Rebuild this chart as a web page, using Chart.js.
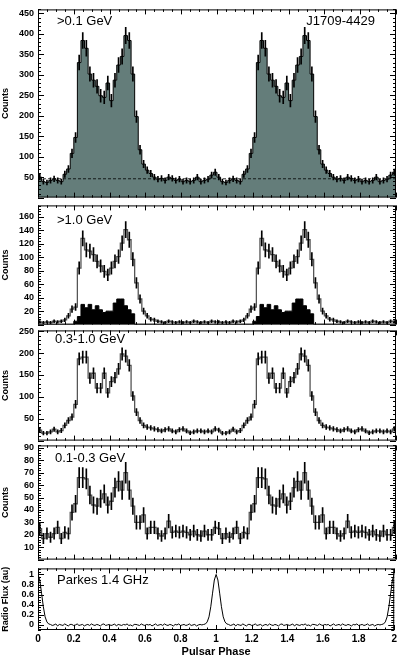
<!DOCTYPE html>
<html>
<head>
<meta charset="utf-8">
<script src="https://cdn.jsdelivr.net/npm/chart.js@4.4.0/dist/chart.umd.min.js"></script>
<style>
  html, body { margin: 0; padding: 0; background: #fff; }
  #wrap { position: relative; width: 400px; height: 659px; overflow: hidden; }
  #wrap canvas { position: absolute; left: 0; }
</style>
</head>
<body>
<div id="wrap"></div>
<script>
// PSR J1709-4429 light curves: one rotation in 50 phase bins, drawn twice (phase 0-2)
const binWidth = 0.02;

const countsAbove100MeV = [50, 39, 37, 42, 46, 42, 39, 57, 70, 108,
                           147, 330, 384, 365, 302, 287, 272, 249, 245, 280,
                           237, 287, 324, 345, 396, 384, 302, 198, 117, 82,
                           67, 59, 50, 45, 47, 42, 50, 47, 42, 45,
                           39, 42, 39, 42, 50, 39, 42, 45, 55, 62];
const backgroundLevel = 46;

const countsAbove1GeV = [4, 3, 4, 3, 5, 4, 5, 7, 13, 23,
                         26, 84, 128, 111, 109, 104, 94, 87, 79, 74,
                         84, 94, 101, 121, 141, 126, 97, 62, 38, 20,
                         13, 8, 7, 5, 4, 3, 5, 4, 3, 4,
                         3, 4, 3, 5, 4, 3, 4, 3, 5, 4];

const countsAbove10GeV = [0, 0, 0, 0, 0, 0, 0, 0, 0, 0,
                          5, 12, 30, 25, 30, 22, 28, 22, 18, 20,
                          20, 32, 38, 38, 28, 22, 16, 0, 0, 0,
                          0, 0, 0, 0, 0, 0, 0, 0, 0, 0,
                          0, 0, 0, 0, 0, 0, 0, 0, 0, 0];

const counts300MeVto1GeV = [24, 17, 17, 20, 26, 20, 23, 35, 46, 54,
                            83, 187, 191, 191, 143, 154, 120, 120, 154, 109,
                            135, 144, 164, 198, 193, 172, 102, 65, 46, 35,
                            31, 29, 27, 25, 22, 25, 27, 22, 20, 25,
                            27, 22, 18, 20, 22, 22, 20, 22, 20, 27];

const counts100to300MeV = [25, 17, 21, 18, 21, 26, 17, 22, 21, 38,
                           45, 66, 66, 65, 52, 44, 43, 49, 53, 44,
                           47, 58, 63, 56, 70, 56, 43, 30, 30, 36,
                           21, 26, 26, 21, 19, 21, 31, 22, 23, 22,
                           23, 22, 20, 23, 20, 19, 23, 20, 20, 26];

// Parkes 1.4 GHz profile, 100 samples per rotation
const radioStep = 0.01;
const radioFlux = [1.00, 0.89, 0.63, 0.36, 0.16, 0.06, 0.02,
  0.01, -0.01, 0.00, 0.02, -0.02, 0.01, 0.00, -0.01, 0.02, 0.00,
  -0.02, 0.01, 0.01, -0.01, 0.00, 0.02, -0.01, 0.00, 0.01, -0.02,
  0.00, 0.01, -0.01, 0.02, 0.00, -0.01, 0.01, 0.00, -0.02, 0.01,
  0.02, -0.01, 0.00, 0.01, -0.01, 0.00, 0.02, -0.02, 0.01, 0.00,
  -0.01, 0.01, 0.00, 0.02, -0.01, 0.00, -0.02, 0.01, 0.01, 0.00,
  -0.01, 0.02, 0.00, -0.01, 0.01, 0.00, 0.01, -0.02, 0.00, 0.02,
  -0.01, 0.00, 0.01, -0.01, 0.02, 0.00, -0.01, 0.01, 0.00, -0.02,
  0.01, 0.00, 0.02, -0.01, 0.00, 0.01, -0.01, 0.00, 0.02, -0.01,
  0.00, 0.01, -0.02, 0.00, 0.01, 0.00, 0.01,
  0.02, 0.06, 0.16, 0.36, 0.63, 0.89];

const phaseTicks = [0, 0.2, 0.4, 0.6, 0.8, 1, 1.2, 1.4, 1.6, 1.8, 2];
const ticksPanel1 = [50, 100, 150, 200, 250, 300, 350, 400, 450];
const ticksPanel2 = [20, 40, 60, 80, 100, 120, 140, 160];
const ticksPanel3 = [50, 100, 150, 200, 250];
const ticksPanel4 = [10, 20, 30, 40, 50, 60, 70, 80, 90];
const ticksPanel5 = [0, 0.2, 0.4, 0.6, 0.8, 1];

Chart.defaults.font.family = '"Liberation Sans", Arial, Helvetica, sans-serif';
Chart.defaults.color = '#000';

// step histogram points: left bin edges + closing point at phase 2
function histPoints(vals) {
  const pts = [];
  for (let c = 0; c < 2; c++) {
    vals.forEach((v, i) => pts.push({x: c + i * binWidth, y: v}));
  }
  pts.push({x: 2, y: vals[vals.length - 1]});
  return pts;
}

// poisson error bars as floating bars at bin centres
function errorBars(vals) {
  const bars = [];
  for (let c = 0; c < 2; c++) {
    vals.forEach((v, i) => {
      const e = Math.sqrt(v);
      bars.push({x: c + (i + 0.5) * binWidth, y: [v - e, v + e]});
    });
  }
  return bars;
}

function stepLine(vals, color, fillColor, order, width) {
  return {
    type: 'line',
    data: histPoints(vals),
    stepped: true,
    borderColor: color,
    borderWidth: width || 1,
    pointRadius: 0,
    fill: fillColor ? 'origin' : false,
    backgroundColor: fillColor || 'transparent',
    order: order
  };
}

function errSet(vals) {
  return {
    type: 'bar',
    data: errorBars(vals),
    backgroundColor: '#000',
    borderWidth: 0,
    barThickness: 1,
    order: 0
  };
}

// frame with inward ticks on all four sides, plus panel captions
const panelFrame = {
  id: 'panelFrame',
  afterDraw(chart, args, opts) {
    const {ctx, chartArea: a} = chart;
    const xs = chart.scales.x, ys = chart.scales.y;
    ctx.save();
    ctx.strokeStyle = '#000';
    ctx.lineWidth = 1;
    ctx.beginPath();
    const nx = Math.round(2 / opts.xMinor);
    for (let i = 0; i <= nx; i++) {
      const v = i * opts.xMinor;
      const r = v / opts.xMajor;
      const len = Math.abs(r - Math.round(r)) < 1e-6 ? 5 : 2.5;
      const px = Math.round(xs.getPixelForValue(v)) + 0.5;
      ctx.moveTo(px, a.bottom); ctx.lineTo(px, a.bottom - len);
      ctx.moveTo(px, a.top); ctx.lineTo(px, a.top + len);
    }
    const first = Math.ceil(ys.min / opts.yMinor - 1e-6);
    const last = Math.floor(ys.max / opts.yMinor + 1e-6);
    for (let i = first; i <= last; i++) {
      const v = i * opts.yMinor;
      const r = v / opts.yMajor;
      const len = Math.abs(r - Math.round(r)) < 1e-6 ? 6 : 3;
      const py = Math.round(ys.getPixelForValue(v)) + 0.5;
      ctx.moveTo(a.left, py); ctx.lineTo(a.left + len, py);
      ctx.moveTo(a.right, py); ctx.lineTo(a.right - len, py);
    }
    ctx.stroke();
    ctx.strokeRect(a.left + 0.5, a.top + 0.5, a.right - a.left - 1, a.bottom - a.top - 1);

    ctx.fillStyle = '#000';
    ctx.font = '13px "Liberation Sans", Arial, sans-serif';
    ctx.textBaseline = 'middle';
    (opts.labels || []).forEach(l => {
      ctx.textAlign = l.align || 'left';
      const tx = l.align === 'right' ? a.right - l.dx : a.left + l.dx;
      ctx.fillText(l.text, tx, a.top + l.dy);
    });
    ctx.restore();
  }
};

const wrap = document.getElementById('wrap');

function makePanel(p) {
  const canvas = document.createElement('canvas');
  const top = Math.max(0, p.top - 8);
  const bottomEdge = p.isLast ? 659 : p.bottom + 8;
  const height = bottomEdge - top;
  canvas.width = 400;
  canvas.height = height;
  canvas.style.top = top + 'px';
  canvas.style.width = '400px';
  canvas.style.height = height + 'px';
  wrap.appendChild(canvas);

  return new Chart(canvas, {
    type: 'line',
    data: { datasets: p.datasets },
    options: {
      responsive: false,
      animation: false,
      devicePixelRatio: 1,
      layout: {
        padding: { left: 0, right: 4, top: p.top - top, bottom: p.isLast ? 0 : bottomEdge - p.bottom }
      },
      plugins: {
        legend: { display: false },
        tooltip: { enabled: false },
        panelFrame: { xMajor: 0.2, xMinor: 0.05, yMajor: p.yMajor, yMinor: p.yMinor, labels: p.labels }
      },
      scales: {
        x: {
          type: 'linear',
          min: 0,
          max: 2,
          offset: false,
          display: !!p.isLast,
          afterFit: s => { if (p.isLast) s.height = 659 - p.bottom; },
          afterBuildTicks: s => { s.ticks = phaseTicks.map(v => ({value: v})); },
          grid: { display: false, drawTicks: false },
          border: { display: false },
          ticks: {
            autoSkip: false,
            maxRotation: 0,
            padding: 3,
            font: { size: 10, weight: 'bold' },
            callback: v => String(v)
          },
          title: {
            display: true,
            text: 'Pulsar Phase',
            font: { size: 11, weight: 'bold' },
            padding: 0
          }
        },
        y: {
          min: p.yMin,
          max: p.yMax,
          afterFit: s => { s.width = 38; },
          afterBuildTicks: s => { s.ticks = p.yTicks.map(v => ({value: v})); },
          grid: { display: false, drawTicks: false },
          border: { display: false },
          ticks: {
            autoSkip: false,
            padding: 4,
            font: { size: 9, weight: 'bold' },
            callback: v => String(v)
          },
          title: {
            display: true,
            text: p.yTitle,
            font: { size: 9, weight: 'bold' },
            padding: 0
          }
        }
      }
    },
    plugins: [panelFrame]
  });
}

const radioPoints = [];
for (let c = 0; c < 2; c++) {
  radioFlux.forEach((v, i) => radioPoints.push({x: c + i * radioStep, y: v}));
}
radioPoints.push({x: 2, y: radioFlux[0]});

makePanel({
  top: 1, bottom: 199, yMin: 0, yMax: 460, yTicks: ticksPanel1, yMajor: 50, yMinor: 10,
  yTitle: 'Counts',
  labels: [{text: '>0.1 GeV', dx: 19, dy: 12}, {text: 'J1709-4429', dx: 21, dy: 12, align: 'right'}],
  datasets: [
    {
      type: 'line',
      data: [{x: 0, y: backgroundLevel}, {x: 2, y: backgroundLevel}],
      borderColor: '#000',
      borderWidth: 0.8,
      borderDash: [3, 2],
      pointRadius: 0,
      fill: false,
      order: 0
    },
    errSet(countsAbove100MeV),
    stepLine(countsAbove100MeV, '#000', '#647d7a', 2)
  ]
});

makePanel({
  top: 204, bottom: 326, yMin: 0, yMax: 177, yTicks: ticksPanel2, yMajor: 20, yMinor: 4,
  yTitle: 'Counts',
  labels: [{text: '>1.0 GeV', dx: 19, dy: 15}],
  datasets: [
    errSet(countsAbove1GeV),
    stepLine(countsAbove1GeV, '#555', null, 1, 1.3),
    stepLine(countsAbove10GeV, '#000', '#000', 2)
  ]
});

makePanel({
  top: 329, bottom: 442, yMin: 0, yMax: 252, yTicks: ticksPanel3, yMajor: 50, yMinor: 10,
  yTitle: 'Counts',
  labels: [{text: '0.3-1.0 GeV', dx: 17, dy: 9}],
  datasets: [
    errSet(counts300MeVto1GeV),
    stepLine(counts300MeVto1GeV, '#555', null, 1, 1.3)
  ]
});

makePanel({
  top: 444, bottom: 561, yMin: 0, yMax: 92, yTicks: ticksPanel4, yMajor: 10, yMinor: 2,
  yTitle: 'Counts',
  labels: [{text: '0.1-0.3 GeV', dx: 17, dy: 13}],
  datasets: [
    errSet(counts100to300MeV),
    stepLine(counts100to300MeV, '#555', null, 1, 1.3)
  ]
});

makePanel({
  top: 567, bottom: 630, yMin: -0.1, yMax: 1.12, yTicks: ticksPanel5, yMajor: 0.2, yMinor: 0.05,
  yTitle: 'Radio Flux (au)', isLast: true,
  labels: [{text: 'Parkes 1.4 GHz', dx: 19, dy: 12}],
  datasets: [
    {
      type: 'line',
      data: radioPoints,
      borderColor: '#000',
      borderWidth: 1,
      pointRadius: 0,
      tension: 0,
      fill: false
    }
  ]
});
</script>
</body>
</html>
